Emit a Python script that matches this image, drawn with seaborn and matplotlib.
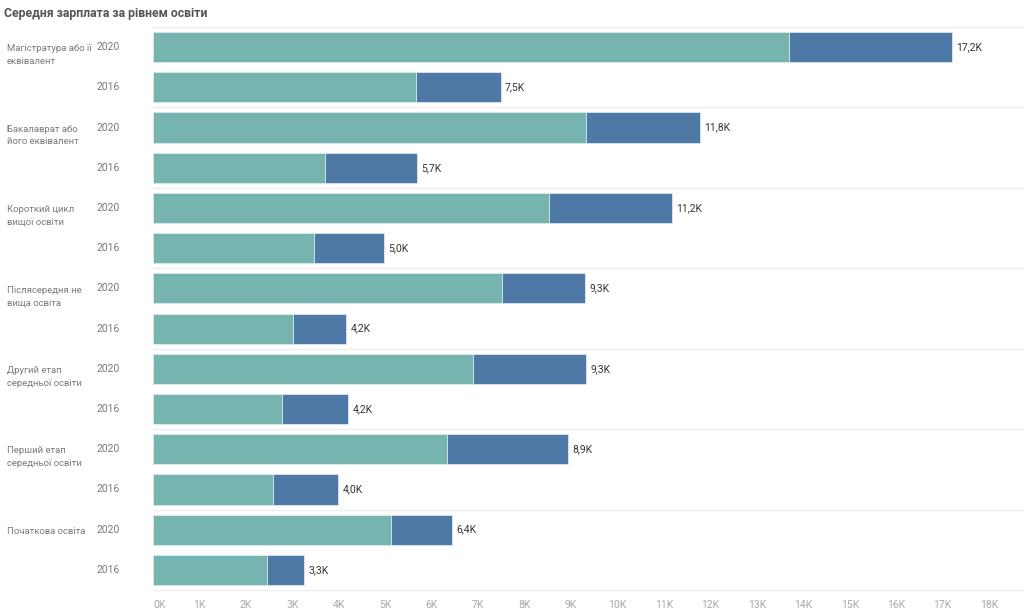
import matplotlib
matplotlib.use("Agg")
import matplotlib.pyplot as plt
import matplotlib.transforms as mtransforms
import seaborn as sns
import pandas as pd
import numpy as np

# ---- data ----
categories = [
    "Магістратура або її\nеквівалент",
    "Бакалаврат або\nйого еквівалент",
    "Короткий цикл\nвищої освіти",
    "Післясередня не\nвища освіта",
    "Другий етап\nсередньої освіти",
    "Перший етап\nсередньої освіти",
    "Початкова освіта",
]
years = ["2020", "2016"]
# teal (first) segment, per category: [2020, 2016]
teal_2020 = [13690, 9320, 8530, 7520, 6880, 6330, 5120]
teal_2016 = [5660, 3700, 3470, 3010, 2780, 2580, 2450]
# blue (second) segment
blue_2020 = [3510, 2460, 2640, 1790, 2450, 2610, 1320]
blue_2016 = [1830, 1980, 1500, 1150, 1420, 1410, 810]
x_ticks = list(range(0, 19000, 1000))
x_tick_labels = [f"{v // 1000}K" for v in x_ticks]

TEAL = "#76B5AF"
BLUE = "#4E79A7"

rows = []
for i, c in enumerate(categories):
    rows.append({"row": f"{i}-2020", "cat": c, "year": years[0],
                 "teal": teal_2020[i], "blue": blue_2020[i]})
    rows.append({"row": f"{i}-2016", "cat": c, "year": years[1],
                 "teal": teal_2016[i], "blue": blue_2016[i]})
df = pd.DataFrame(rows)
df["total"] = df["teal"] + df["blue"]
order = list(df["row"])

sns.set_theme(style="white")
plt.rcParams["font.family"] = ["Roboto", "DejaVu Sans"]

W, H = 1024, 613
fig = plt.figure(figsize=(W / 100, H / 100), dpi=100)
ax_left, ax_right, ax_top, ax_bottom = 153, 1024, 27, 590
ax = fig.add_axes([ax_left / W, 1 - ax_bottom / H,
                   (ax_right - ax_left) / W, (ax_bottom - ax_top) / H])

sns.barplot(data=df, x="total", y="row", order=order, color=BLUE,
            saturation=1, width=0.75, orient="h", ax=ax,
            edgecolor="#dfe7ef", linewidth=0.6)
sns.barplot(data=df, x="teal", y="row", order=order, color=TEAL,
            saturation=1, width=0.75, orient="h", ax=ax,
            edgecolor="#dfeeed", linewidth=0.6)

ax.set_xlim(0, 18750)
ax.set_ylim(len(order) - 0.5, -0.5)
for s in ax.spines.values():
    s.set_visible(False)
ax.set_xlabel("")
ax.set_ylabel("")
ax.set_yticks([])
ax.set_xticks(x_ticks)
ax.set_xticklabels(x_tick_labels, fontsize=7.5, color="#a8a8a8")
ax.tick_params(axis="x", length=0, pad=7)
ax.grid(False)
# first tick label sits slightly right of the axis start, as in the reference
first = ax.get_xticklabels()[0]
first.set_horizontalalignment("left")

# separators
for k in range(len(categories) + 1):
    ax.axhline(2 * k - 0.5, color="#eeeeee", linewidth=1.0, zorder=0,
               clip_on=False)

# value labels
for j, r in df.iterrows():
    lab = f"{r['total'] / 1000:.1f}K".replace(".", ",")
    ax.annotate(lab, xy=(r["total"], j), xytext=(3, 0),
                textcoords="offset points", va="center", ha="left",
                fontsize=7.5, color="#333333")

# left labels
trans = mtransforms.blended_transform_factory(fig.transFigure, ax.transData)
for i, c in enumerate(categories):
    ax.text(7 / W, 2 * i - 0.07, c, transform=trans, ha="left", va="top",
            fontsize=6.8, color="#7a7a7a", linespacing=1.5)
for j, r in df.iterrows():
    ax.text(97 / W, j, r["year"], transform=trans, ha="left", va="center",
            fontsize=7.5, color="#7a7a7a")

fig.text(4 / W, 1 - 13 / H, "Середня зарплата за рівнем освіти",
         ha="left", va="center", fontsize=8.8, fontweight="bold",
         color="#555555")

fig.savefig("out.png", dpi=100, facecolor="white")
